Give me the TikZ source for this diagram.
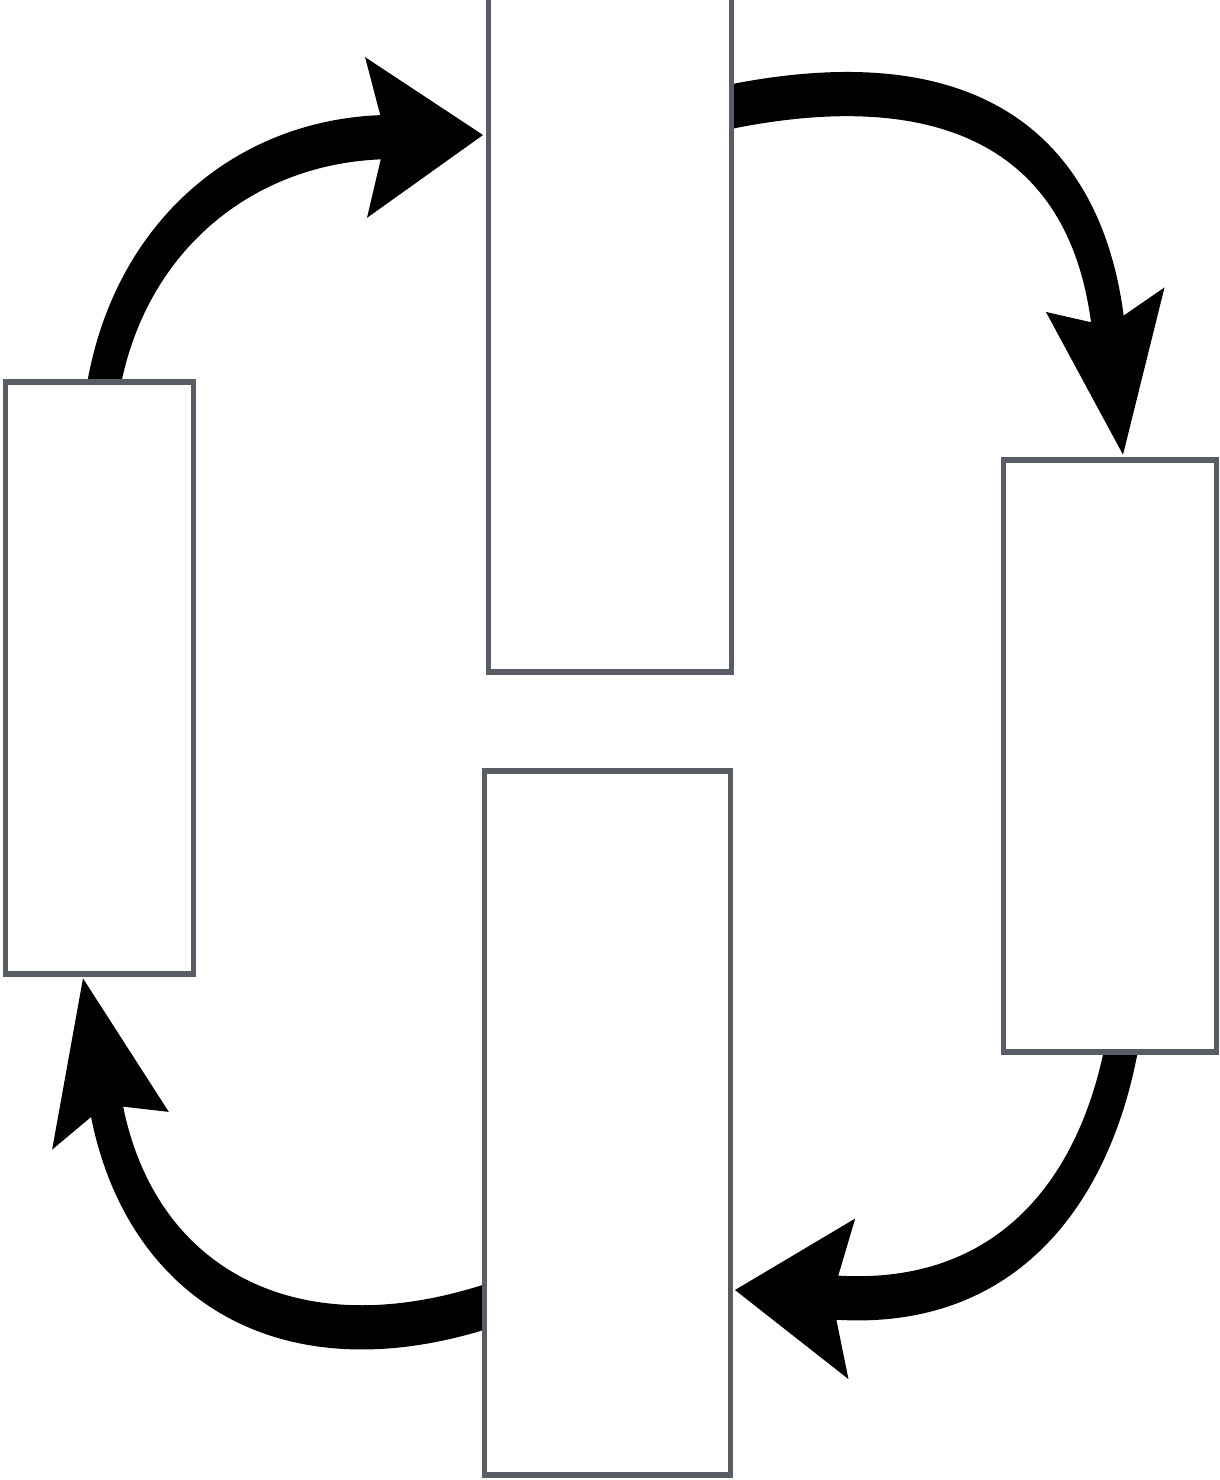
\documentclass[tikz,border=0pt]{standalone}
\usetikzlibrary{arrows.meta,calc}
\definecolor{boxgray}{RGB}{88,93,101}
\pgfdeclarelayer{back}
\pgfsetlayers{back,main}
\tikzset{
  box/.style={rectangle, draw=boxgray, line width=5pt, fill=white, inner sep=0pt, outer sep=2.5pt},
  flow/.style={line width=33pt, black, -{Stealth[length=117pt,width=120pt,inset=20pt,line width=0pt]}},
  stretched/.style={transform canvas={yscale=1.34}, y={(0pt,-0.746269pt)}}
}
\begin{document}
\begin{tikzpicture}[x=1pt,y=-1pt]
\useasboundingbox (0,0) rectangle (1219,1480);
\begin{scope}[stretched]
  % boxes (centres in px, heights scaled back by 1.34)
  \node[box, minimum width=243.5pt, minimum height={692pt/1.34}] (top) at (609.75,326) {};
  \node[box, minimum width=246pt, minimum height={704pt/1.34}] (bottom) at (607,1123) {};
  \node[box, minimum width=188pt, minimum height={592pt/1.34}] (left) at (99,678) {};
  \node[box, minimum width=213pt, minimum height={592pt/1.34}] (right) at (1109.5,756) {};
\end{scope}
\begin{pgfonlayer}{back}
\fill[white] (0,0) rectangle (1219,1480);
\begin{scope}[stretched]
  % connectors (each starts a little inside its source box, hidden by the box)
  \draw[flow] ($(left.north west)+(97.5,24)$) -- ($(left.north west)+(102.5,0)$)
     .. controls (135,230) and (250,140) .. ($(top.west)+(-2.5,-191)$);
  \draw[flow] ($(top.east)+(-24,-215)$) -- ($(top.east)+(0,-220)$)
     .. controls (970,60) and (1088,150) .. ($(right.north)+(13.5,-2)$);
  \draw[flow] ($(right.south)+(15.5,-24)$) -- ($(right.south)+(10.5,0)$)
     .. controls (1090,1200) and (1000,1310) .. ($(bottom.east)+(2.5,167)$);
  \draw[flow] ($(bottom.west)+(24,178)$) -- ($(bottom.west)+(0,185)$)
     .. controls (280,1370) and (137,1278) .. ($(left.south)+(-16,1)$);
\end{scope}
\end{pgfonlayer}
\end{tikzpicture}
\end{document}
